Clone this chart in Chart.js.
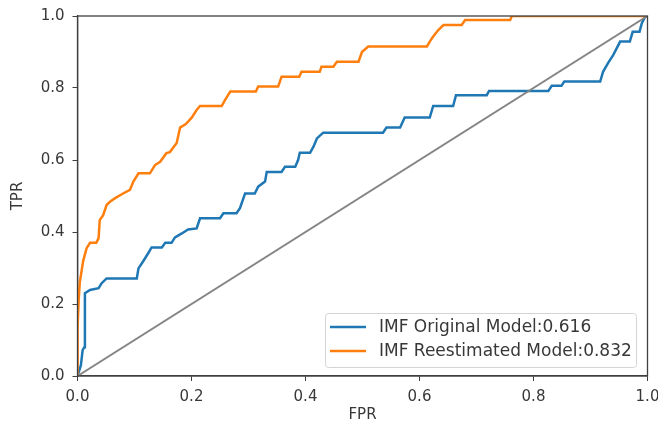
<!DOCTYPE html>
<html>
<head>
<meta charset="utf-8">
<script src="https://cdn.jsdelivr.net/npm/chart.js@4.4.0/dist/chart.umd.min.js"></script>
<style>
  html, body { margin: 0; padding: 0; background: #fff; }
  #wrap { width: 658px; height: 426px; }
</style>
</head>
<body>
<div id="wrap"><canvas id="rocChart" width="658" height="426"></canvas></div>
<script>
// ROC curve values
var fprOriginal = [0, 0.006, 0.009, 0.012, 0.013, 0.022, 0.037, 0.042, 0.051, 0.104, 0.107, 0.115, 0.124, 0.13, 0.148, 0.154, 0.165, 0.171, 0.183, 0.194, 0.209, 0.215, 0.25, 0.256, 0.279, 0.285, 0.294, 0.311, 0.317, 0.329, 0.332, 0.358, 0.364, 0.382, 0.387, 0.39, 0.408, 0.414, 0.42, 0.431, 0.536, 0.542, 0.566, 0.574, 0.618, 0.624, 0.659, 0.664, 0.718, 0.722, 0.826, 0.832, 0.849, 0.854, 0.917, 0.922, 0.931, 0.94, 0.952, 0.969, 0.974, 0.986, 0.99, 0.996, 1];
var tprOriginal = [0, 0.03, 0.072, 0.08, 0.23, 0.239, 0.244, 0.257, 0.271, 0.271, 0.299, 0.318, 0.341, 0.357, 0.357, 0.37, 0.37, 0.385, 0.396, 0.407, 0.41, 0.438, 0.438, 0.452, 0.452, 0.466, 0.507, 0.507, 0.526, 0.54, 0.567, 0.567, 0.581, 0.581, 0.6, 0.62, 0.62, 0.637, 0.66, 0.676, 0.676, 0.69, 0.69, 0.718, 0.718, 0.75, 0.75, 0.78, 0.78, 0.792, 0.792, 0.806, 0.806, 0.818, 0.818, 0.845, 0.87, 0.892, 0.929, 0.929, 0.956, 0.956, 0.98, 0.998, 1];

var fprReest = [0, 0, 0.002, 0.004, 0.01, 0.016, 0.022, 0.033, 0.037, 0.039, 0.045, 0.051, 0.057, 0.066, 0.08, 0.092, 0.098, 0.107, 0.127, 0.136, 0.145, 0.156, 0.162, 0.174, 0.18, 0.19, 0.2, 0.209, 0.215, 0.253, 0.259, 0.268, 0.313, 0.317, 0.352, 0.358, 0.389, 0.393, 0.425, 0.428, 0.449, 0.455, 0.493, 0.499, 0.51, 0.613, 0.618, 0.624, 0.633, 0.642, 0.674, 0.68, 0.759, 0.762, 1];
var tprReest = [0, 0.13, 0.21, 0.26, 0.32, 0.355, 0.37, 0.37, 0.383, 0.433, 0.447, 0.475, 0.484, 0.494, 0.507, 0.517, 0.54, 0.563, 0.563, 0.586, 0.595, 0.619, 0.622, 0.647, 0.69, 0.7, 0.717, 0.739, 0.75, 0.75, 0.767, 0.79, 0.79, 0.804, 0.804, 0.831, 0.831, 0.845, 0.845, 0.859, 0.859, 0.873, 0.873, 0.9, 0.915, 0.915, 0.929, 0.943, 0.961, 0.975, 0.975, 0.989, 0.989, 1, 1];

var diagX = [0, 1];
var diagY = [0, 1];

var axisTicks = [0, 0.2, 0.4, 0.6, 0.8, 1.0];

var labelOriginal = 'IMF Original Model:0.616';
var labelReest = 'IMF Reestimated Model:0.832';

function toPoints(xs, ys) {
    var pts = [];
    for (var i = 0; i < xs.length; i++) pts.push({x: xs[i], y: ys[i]});
    return pts;
}

var FONT = 'DejaVu Sans';
var TEXT = '#383838';
var FRAME = '#404040';

// box around the plot plus the legend inside it
var frameAndLegend = {
    id: 'frameAndLegend',
    afterDatasetsDraw: function (chart) {
        var ctx = chart.ctx, a = chart.chartArea;
        ctx.save();
        ctx.strokeStyle = FRAME;
        ctx.lineWidth = 1.3;
        ctx.strokeRect(a.left, a.top, a.right - a.left, a.bottom - a.top);

        var items = chart.data.datasets.filter(function (d) { return d.showInLegend; });
        items.sort(function (p, q) { return q.order - p.order; });
        var bx = 325.5, by = 313.5, bw = 311, bh = 54;
        ctx.fillStyle = 'rgba(255,255,255,0.8)';
        ctx.strokeStyle = '#d4d4d4';
        ctx.lineWidth = 1;
        ctx.beginPath();
        ctx.roundRect(bx, by, bw, bh, 3);
        ctx.fill();
        ctx.stroke();

        ctx.font = '17px "' + FONT + '"';
        ctx.textBaseline = 'middle';
        items.forEach(function (d, i) {
            var y = 327 + i * 24;
            ctx.strokeStyle = d.borderColor;
            ctx.lineWidth = 2.5;
            ctx.beginPath();
            ctx.moveTo(330, y);
            ctx.lineTo(366, y);
            ctx.stroke();
            ctx.fillStyle = TEXT;
            ctx.fillText(d.label, 379, y + 1);
        });
        ctx.restore();
    }
};

var ctx = document.getElementById('rocChart').getContext('2d');

var myChart = new Chart(ctx, {
    type: 'line',
    data: {
        datasets: [
            {
                label: 'diagonal',
                data: toPoints(diagX, diagY),
                borderColor: '#858585',
                borderWidth: 2,
                order: 0,
                showInLegend: false
            },
            {
                label: labelReest,
                data: toPoints(fprReest, tprReest),
                borderColor: '#ff7f0e',
                borderWidth: 2.5,
                order: 1,
                showInLegend: true
            },
            {
                label: labelOriginal,
                data: toPoints(fprOriginal, tprOriginal),
                borderColor: '#1f77b4',
                borderWidth: 2.5,
                order: 2,
                showInLegend: true
            }
        ]
    },
    options: {
        responsive: false,
        animation: false,
        events: [],
        layout: { padding: { top: 16, right: 10.5, left: 0, bottom: 0 } },
        elements: {
            point: { radius: 0 },
            line: { tension: 0, fill: false, borderJoinStyle: 'miter' }
        },
        plugins: {
            legend: { display: false },
            tooltip: { enabled: false }
        },
        scales: {
            x: {
                type: 'linear',
                min: 0,
                max: 1,
                afterBuildTicks: function (scale) {
                    scale.ticks = axisTicks.map(function (v) { return {value: v}; });
                },
                afterFit: function (scale) {
                    scale.height = 50;
                    scale.paddingLeft = 0;
                    scale.paddingRight = 0;
                },
                ticks: {
                    color: TEXT,
                    font: { family: FONT, size: 15 },
                    padding: 7,
                    maxRotation: 0,
                    callback: function (v) { return Number(v).toFixed(1); }
                },
                grid: { drawOnChartArea: false, drawTicks: true, tickLength: 5, color: FRAME },
                border: { display: true, color: FRAME, width: 1.3 },
                title: {
                    display: true,
                    text: 'FPR',
                    color: TEXT,
                    font: { family: FONT, size: 15 },
                    padding: { top: 0, bottom: 2 }
                }
            },
            y: {
                type: 'linear',
                min: 0,
                max: 1,
                afterBuildTicks: function (scale) {
                    scale.ticks = axisTicks.map(function (v) { return {value: v}; });
                },
                afterFit: function (scale) {
                    scale.width = 77.5;
                    scale.paddingTop = 0;
                    scale.paddingBottom = 0;
                },
                ticks: {
                    color: TEXT,
                    font: { family: FONT, size: 15 },
                    padding: 8,
                    callback: function (v) { return Number(v).toFixed(1); }
                },
                grid: { drawOnChartArea: false, drawTicks: true, tickLength: 5, color: FRAME },
                border: { display: true, color: FRAME, width: 1.3 },
                title: {
                    display: true,
                    text: 'TPR',
                    color: TEXT,
                    font: { family: FONT, size: 15 },
                    padding: { top: 9, bottom: 0 }
                }
            }
        }
    },
    plugins: [frameAndLegend]
});
</script>
</body>
</html>
